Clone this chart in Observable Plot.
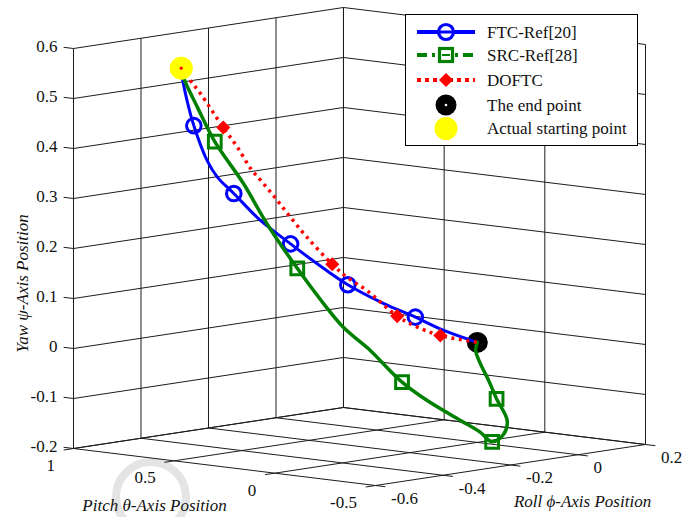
<!DOCTYPE html>
<html>
<head>
<meta charset="utf-8">
<script src="https://cdn.jsdelivr.net/npm/d3@7"></script>
<script src="https://cdn.jsdelivr.net/npm/@observablehq/plot@0.6"></script>
<style>
  body { margin: 0; background: #fff; }
  #chart { position: relative; width: 695px; height: 517px; font-family: "Liberation Serif", "Times New Roman", serif; }
  #chart svg { position: absolute; left: 0; top: 0; }
</style>
</head>
<body>
<div id="chart"></div>
<script>
// ---------- axis limits & ticks ----------
const rollLimits  = [-0.6, 0.2];
const pitchLimits = [1, -0.5];
const yawLimits   = [-0.2, 0.6];
const rollTicks  = [-0.6, -0.4, -0.2, 0, 0.2];
const pitchTicks = [1, 0.5, 0, -0.5];
const yawTicks   = [-0.2, -0.1, 0, 0.1, 0.2, 0.3, 0.4, 0.5, 0.6];

const axisTitles = {
  yaw: "Yaw \u03C8-Axis Position",
  pitch: "Pitch \u03B8-Axis Position",
  roll: "Roll \u03D5-Axis Position"
};

// ---------- special points ----------
const startRoll = -0.4, startPitch = 0.8, startYaw = 0.55;
const endRoll = 0, endPitch = 0, endYaw = 0;

// ---------- FTC-Ref[20] (blue) ----------
const ftcRoll  = [-0.400,-0.399,-0.390,-0.383,-0.365,-0.351,-0.329,-0.293,-0.252,-0.216,-0.175,-0.126,-0.084,-0.045,0];
const ftcPitch = [0.800,0.797,0.780,0.766,0.730,0.703,0.658,0.586,0.505,0.433,0.350,0.253,0.167,0.091,0];
const ftcYaw   = [0.550,0.532,0.472,0.435,0.365,0.332,0.299,0.245,0.198,0.158,0.116,0.078,0.051,0.024,0];
const ftcMarkers = [3, 6, 8, 10, 12];

// ---------- SRC-Ref[28] (green) ----------
const srcRoll  = [-0.400,-0.397,-0.378,-0.355,-0.316,-0.284,-0.243,-0.208,-0.181,-0.144,-0.131,-0.102,-0.068,-0.023,0.004,0.020,0.036,0.040,0.026,0.015,0.004,-0.002,0];
const srcPitch = [0.800,0.794,0.757,0.709,0.632,0.568,0.487,0.416,0.362,0.289,0.262,0.203,0.135,0.045,-0.009,-0.040,-0.072,-0.081,-0.052,-0.031,-0.009,0.005,0];
const srcYaw   = [0.550,0.531,0.472,0.403,0.319,0.238,0.149,0.079,0.031,-0.016,-0.036,-0.079,-0.116,-0.156,-0.180,-0.199,-0.183,-0.156,-0.113,-0.076,-0.043,-0.016,0];
const srcMarkers = [3, 6, 11, 15, 18];

// ---------- DOFTC (red) ----------
const dofRoll  = [-0.400,-0.388,-0.374,-0.343,-0.324,-0.306,-0.289,-0.270,-0.252,-0.230,-0.196,-0.176,-0.149,-0.108,-0.081,-0.050,0];
const dofPitch = [0.800,0.775,0.748,0.687,0.649,0.613,0.578,0.541,0.505,0.460,0.392,0.352,0.298,0.217,0.162,0.100,0];
const dofYaw   = [0.550,0.525,0.499,0.431,0.392,0.349,0.319,0.285,0.251,0.211,0.157,0.131,0.104,0.053,0.031,0.014,0];
const dofMarkers = [3, 10, 13, 15];

const legendLabels = ["FTC-Ref[20]", "SRC-Ref[28]", "DOFTC", "The end point", "Actual starting point"];

// ---------- camera (orthographic view of the unit box) ----------
const CAM = {pu: 0.528, ru: 0.472, v0: 0.0774, pv: -0.0774, rv: 0.0858, zv: 0.8368};
const nrm = (v, [a, b]) => (v - a) / (b - a);
const U = (r, p, z) => CAM.pu * nrm(p, pitchLimits) + CAM.ru * nrm(r, rollLimits);
const V = (r, p, z) => CAM.v0 + CAM.pv * nrm(p, pitchLimits) + CAM.rv * nrm(r, rollLimits) + CAM.zv * nrm(z, yawLimits);

const rows = (R, P, Y) => R.map((r, i) => ({roll: r, pitch: P[i], yaw: Y[i]}));
const ftc = rows(ftcRoll, ftcPitch, ftcYaw);
const src = rows(srcRoll, srcPitch, srcYaw);
const dof = rows(dofRoll, dofPitch, dofYaw);
const px = d => U(d.roll, d.pitch, d.yaw);
const py = d => V(d.roll, d.pitch, d.yaw);

// ---------- grid segments on the back walls and floor ----------
const [r0, r1] = rollLimits, [p0, p1] = pitchLimits, [z0, z1] = yawLimits;
const grid = [];
yawTicks.forEach(z => { grid.push([[r0,p0,z],[r1,p0,z]]); grid.push([[r1,p0,z],[r1,p1,z]]); });
rollTicks.forEach(r => { grid.push([[r,p0,z0],[r,p0,z1]]); grid.push([[r,p0,z0],[r,p1,z0]]); });
pitchTicks.forEach(p => { grid.push([[r1,p,z0],[r1,p,z1]]); grid.push([[r0,p,z0],[r1,p,z0]]); });
const tickLen = {pitch: 0.049, roll: 0.029};
const ticks = [];
yawTicks.forEach(z => ticks.push([[r0,p0,z],[r0,p0+tickLen.pitch,z]]));
pitchTicks.forEach(p => ticks.push([[r0,p,z0],[r0-tickLen.roll,p,z0]]));
rollTicks.forEach(r => ticks.push([[r,p1,z0],[r,p1-tickLen.pitch,z0]]));

const seg = {x1: s => U(...s[0]), y1: s => V(...s[0]), x2: s => U(...s[1]), y2: s => V(...s[1])};
const FS = 17;
const serif = "Liberation Serif, Times New Roman, serif";
const BLUE = "#0000ff", GREEN = "#008000", RED = "#ff0000";

const plot = Plot.plot({
  width: 695, height: 517,
  marginLeft: 73, marginRight: 50, marginTop: 7, marginBottom: 32,
  x: {domain: [0, 1], axis: null},
  y: {domain: [0, 1], axis: null},
  style: {fontFamily: serif, fontSize: FS + "px", background: "transparent", overflow: "visible"},
  marks: [
    Plot.link(grid, {...seg, stroke: "#1c1c1c", strokeWidth: 1}),
    Plot.link(ticks, {...seg, stroke: "#1c1c1c", strokeWidth: 1}),
    Plot.text(yawTicks, {x: t => U(r0,p0,t), y: t => V(r0,p0,t), text: t => String(t), textAnchor: "end", dx: -16, dy: -2, fontSize: FS, fill: "#111"}),
    Plot.text(pitchTicks, {x: t => U(r0,t,z0), y: t => V(r0,t,z0), text: t => String(t), textAnchor: "end", dx: -18.5, dy: 17, fontSize: FS, fill: "#111"}),
    Plot.text(rollTicks, {x: t => U(t,p1,z0), y: t => V(t,p1,z0), text: t => String(t), textAnchor: "start", dx: 15.5, dy: 13, fontSize: FS, fill: "#111"}),
    Plot.text([axisTitles.yaw], {x: () => U(r0,p0,(z0+z1)/2), y: () => V(r0,p0,(z0+z1)/2), text: d => d, rotate: -90, dx: -51, dy: 35, fontSize: FS, fontStyle: "italic", fill: "#111"}),
    Plot.text([axisTitles.pitch], {x: () => U(r0,(p0+p1)/2,z0), y: () => V(r0,(p0+p1)/2,z0), text: d => d, dx: -70, dy: 38.5, fontSize: FS, fontStyle: "italic", fill: "#111"}),
    Plot.text([axisTitles.roll], {x: () => U((r0+r1)/2,p1,z0), y: () => V((r0+r1)/2,p1,z0), text: d => d, dx: 72, dy: 37, fontSize: FS, fontStyle: "italic", fill: "#111"}),
    // end point (under the curves)
    Plot.dot([{roll: endRoll, pitch: endPitch, yaw: endYaw}], {x: px, y: py, r: 10.5, fill: "#000", stroke: "none"}),
    // FTC
    Plot.line(ftc, {x: px, y: py, stroke: BLUE, strokeWidth: 3, curve: "catmull-rom"}),
    Plot.dot(ftcMarkers.map(i => ftc[i]), {x: px, y: py, r: 7.3, stroke: BLUE, strokeWidth: 3, fill: "none"}),
    // SRC
    Plot.line(src, {x: px, y: py, stroke: GREEN, strokeWidth: 3.5, curve: "catmull-rom"}),
    Plot.dot(srcMarkers.map(i => src[i]), {x: px, y: py, r: 7.2, symbol: "square", stroke: GREEN, strokeWidth: 3, fill: "none"}),
    // DOFTC
    Plot.line(dof, {x: px, y: py, stroke: RED, strokeWidth: 3.5, strokeDasharray: "3,4.5", strokeLinecap: "butt", curve: "catmull-rom"}),
    Plot.dot(dofMarkers.map(i => dof[i]), {x: px, y: py, r: 5.4, symbol: "diamond2", fill: RED, stroke: RED, strokeWidth: 1.5}),
    // start point
    Plot.dot([{roll: startRoll, pitch: startPitch, yaw: startYaw}], {x: px, y: py, r: 11.5, fill: "#ffff00", stroke: "none"}),
    Plot.dot([{roll: startRoll, pitch: startPitch, yaw: startYaw}], {x: px, y: py, r: 1.6, fill: RED, stroke: "none"})
  ]
});

const chart = document.getElementById("chart");
// faint watermark ring behind the chart
const bg = d3.create("svg").attr("width", 695).attr("height", 517);
bg.append("circle").attr("cx", 151).attr("cy", 497).attr("r", 35).attr("fill", "none").attr("stroke", "#e4e4e4").attr("stroke-width", 8);
chart.appendChild(bg.node());
chart.appendChild(plot);

// ---------- legend ----------
const lg = d3.create("svg").attr("width", 695).attr("height", 517);
const box = {x: 405, y: 14, w: 232, h: 131};
lg.append("rect").attr("x", box.x + 0.5).attr("y", box.y + 0.5).attr("width", box.w).attr("height", box.h)
  .attr("fill", "#fff").attr("stroke", "#000").attr("stroke-width", 1);
const rowY = [32, 55, 80, 105, 128.5];
const lx0 = 417, lx1 = 475, mx = 446, tx = 487;
const styles = [
  {stroke: BLUE, w: 4, dash: null},
  {stroke: GREEN, w: 4, dash: "10,5,3,5"},
  {stroke: RED, w: 4, dash: "4,4"}
];
styles.forEach((s, i) => {
  lg.append("line").attr("x1", lx0).attr("x2", lx1).attr("y1", rowY[i]).attr("y2", rowY[i])
    .attr("stroke", s.stroke).attr("stroke-width", s.w).attr("stroke-dasharray", s.dash);
});
lg.append("circle").attr("cx", mx).attr("cy", rowY[0]).attr("r", 7.5).attr("fill", "#fff").attr("stroke", BLUE).attr("stroke-width", 3.2);
lg.append("line").attr("x1", mx - 7).attr("x2", mx + 7).attr("y1", rowY[0]).attr("y2", rowY[0]).attr("stroke", BLUE).attr("stroke-width", 3);
lg.append("rect").attr("x", mx - 6.5).attr("y", rowY[1] - 6.5).attr("width", 13).attr("height", 13).attr("fill", "#fff").attr("stroke", GREEN).attr("stroke-width", 3.2);
lg.append("line").attr("x1", mx - 4).attr("x2", mx + 4).attr("y1", rowY[1]).attr("y2", rowY[1]).attr("stroke", GREEN).attr("stroke-width", 2);
lg.append("path").attr("d", d3.symbol(d3.symbolDiamond2, Math.PI * 5.4 * 5.4)()).attr("transform", `translate(${mx},${rowY[2]})`)
  .attr("fill", RED).attr("stroke", RED).attr("stroke-width", 1.5);
lg.append("circle").attr("cx", mx).attr("cy", rowY[3]).attr("r", 10.5).attr("fill", "#000");
lg.append("circle").attr("cx", mx).attr("cy", rowY[3]).attr("r", 1.3).attr("fill", "#fff");
lg.append("circle").attr("cx", mx).attr("cy", rowY[4]).attr("r", 11.5).attr("fill", "#ffff00");
legendLabels.forEach((t, i) => {
  lg.append("text").attr("x", tx).attr("y", rowY[i]).attr("dy", "0.35em")
    .attr("font-family", serif).attr("font-size", FS).attr("fill", "#111").text(t);
});
chart.appendChild(lg.node());
</script>
</body>
</html>
